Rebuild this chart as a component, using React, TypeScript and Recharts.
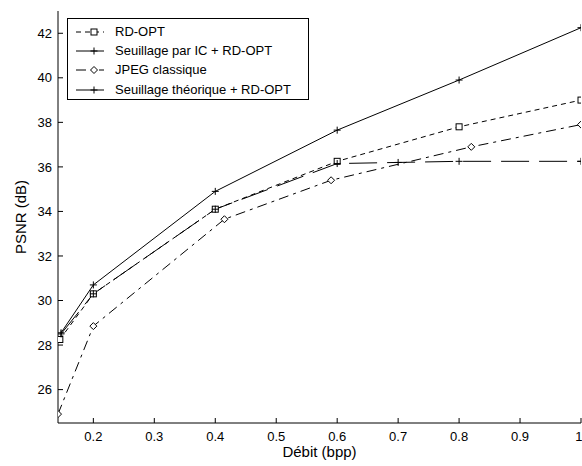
import React from "react"
import { LineChart, Line, XAxis, YAxis, Legend } from "recharts"

// x = débit (bpp), y = PSNR (dB)
const rdOptX = [0.145, 0.2, 0.4, 0.6, 0.8, 1]
const rdOptY = [28.25, 30.3, 34.1, 36.25, 37.8, 39.0]

const seuilIcX = [0.147, 0.2, 0.4, 0.6, 0.7, 0.8, 1]
const seuilIcY = [28.5, 30.3, 34.1, 36.15, 36.2, 36.25, 36.25]

const jpegX = [0.142, 0.2, 0.415, 0.59, 0.82, 1]
const jpegY = [24.9, 28.85, 33.65, 35.4, 36.9, 37.9]

const theoX = [0.147, 0.2, 0.4, 0.6, 0.8, 1]
const theoY = [28.55, 30.7, 34.9, 37.65, 39.9, 42.25]

const xTicks = [0.2, 0.3, 0.4, 0.5, 0.6, 0.7, 0.8, 0.9, 1]
const yTicks = [26, 28, 30, 32, 34, 36, 38, 40, 42]

const zip = (xs: number[], ys: number[]) => xs.map((x, i) => ({ x, y: ys[i] }))

type MarkerKind = "square" | "plus" | "diamond"

function Marker({ kind, cx, cy }: { kind: MarkerKind; cx: number; cy: number }) {
  if (kind === "square") {
    return <rect x={cx - 3} y={cy - 3} width={6} height={6} fill="#fff" stroke="#000" strokeWidth={1} />
  }
  if (kind === "diamond") {
    return <path d={`M${cx},${cy - 3.5}L${cx + 3.5},${cy}L${cx},${cy + 3.5}L${cx - 3.5},${cy}Z`} fill="#fff" stroke="#000" strokeWidth={1} />
  }
  return <path d={`M${cx - 3.5},${cy}H${cx + 3.5}M${cx},${cy - 3.5}V${cy + 3.5}`} stroke="#000" strokeWidth={1} />
}

const series = [
  { name: "RD-OPT", data: zip(rdOptX, rdOptY), dash: "5 4", marker: "square" as MarkerKind },
  { name: "Seuillage par IC + RD-OPT", data: zip(seuilIcX, seuilIcY), dash: "28 10", marker: "plus" as MarkerKind },
  { name: "JPEG classique", data: zip(jpegX, jpegY), dash: "10 5 3 5", marker: "diamond" as MarkerKind },
  { name: "Seuillage théorique + RD-OPT", data: zip(theoX, theoY), dash: undefined, marker: "plus" as MarkerKind },
]

const FONT = "'Liberation Sans', Arial, sans-serif"

function LegendBox() {
  return (
    <div
      style={{
        position: "relative",
        width: 242,
        height: 82,
        boxSizing: "border-box",
        border: "1px solid #000",
        background: "#fff",
        fontFamily: FONT,
        fontSize: 13,
        color: "#000",
      }}
    >
      {series.map((s, i) => {
        const cy = 12.7 + i * 19.3
        return (
          <div key={s.name} style={{ position: "absolute", left: 0, top: cy - 9, height: 18, width: 240 }}>
            <svg width={40} height={18} style={{ position: "absolute", left: 6, top: 0 }}>
              <line x1={2} y1={9} x2={30} y2={9} stroke="#000" strokeWidth={1} strokeDasharray={s.dash} />
              <Marker kind={s.marker} cx={20} cy={9} />
            </svg>
            <span style={{ position: "absolute", left: 47, top: 1, whiteSpace: "nowrap", lineHeight: "16px" }}>{s.name}</span>
          </div>
        )
      })}
    </div>
  )
}

export default function App() {
  return (
    <div style={{ position: "absolute", left: 0, top: 0, background: "#fff" }}>
      <LineChart width={582} height={466} margin={{ top: 11, right: 1, bottom: 0, left: 0 }} style={{ fontFamily: FONT }}>
        <XAxis
          dataKey="x"
          type="number"
          domain={[0.142, 1]}
          ticks={xTicks}
          allowDataOverflow
          height={43}
          stroke="#000"
          tickSize={-5}
          tickMargin={14}
          tick={{ fill: "#000", fontSize: 13 }}
          label={{ value: "Débit (bpp)", position: "insideBottom", offset: 9, fill: "#000", fontSize: 15 }}
        />
        <XAxis
          xAxisId="top"
          orientation="top"
          dataKey="x"
          type="number"
          domain={[0.142, 1]}
          ticks={xTicks}
          allowDataOverflow
          height={0}
          stroke="#000"
          tickSize={-5}
          tick={false}
        />
        <YAxis
          type="number"
          domain={[24.5, 43]}
          ticks={yTicks}
          allowDataOverflow
          width={58}
          stroke="#000"
          tickSize={-5}
          tickMargin={11}
          tick={{ fill: "#000", fontSize: 13 }}
          label={{ value: "PSNR (dB)", angle: -90, position: "insideLeft", offset: 21, fill: "#000", fontSize: 15, style: { textAnchor: "middle" } }}
        />
        <YAxis
          yAxisId="right"
          orientation="right"
          type="number"
          domain={[24.5, 43]}
          ticks={yTicks}
          allowDataOverflow
          width={0}
          stroke="#000"
          tickSize={-5}
          tick={false}
        />
        <Legend
          layout="vertical"
          align="center"
          verticalAlign="middle"
          wrapperStyle={{ left: 67, top: 18, width: 242, height: 82 }}
          content={() => <LegendBox />}
        />
        {series.map((s) => (
          <Line
            key={s.name}
            data={s.data}
            dataKey="y"
            name={s.name}
            type="linear"
            stroke="#000"
            strokeWidth={1}
            strokeDasharray={s.dash}
            dot={(p: any) => <Marker key={`${s.name}-${p.index}`} kind={s.marker} cx={p.cx} cy={p.cy} />}
            activeDot={false}
            isAnimationActive={false}
          />
        ))}
      </LineChart>
    </div>
  )
}
